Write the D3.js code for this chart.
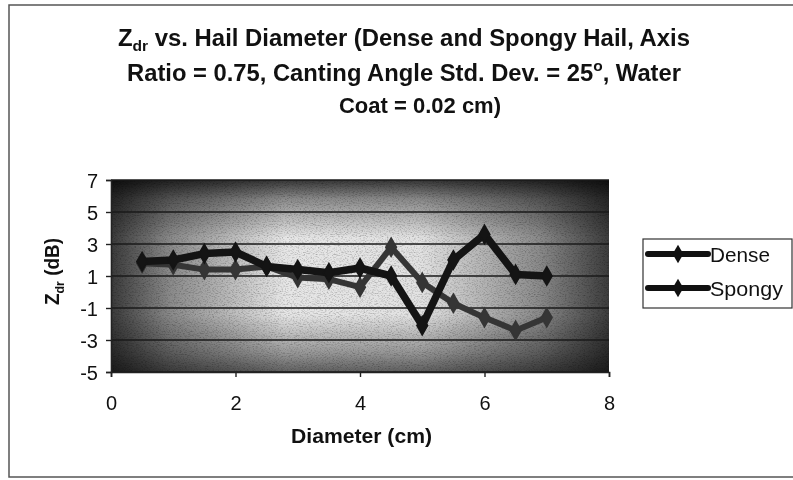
<!DOCTYPE html>
<html>
<head>
<meta charset="utf-8">
<script src="https://cdn.jsdelivr.net/npm/d3@7/dist/d3.min.js"></script>
<style>
  html, body { margin: 0; padding: 0; background: #fff; }
  svg { display: block; font-family: "Liberation Sans", Arial, Helvetica, sans-serif; }
</style>
</head>
<body>
<svg id="chart" width="793" height="480"></svg>
<script>
// Hail diameter (cm) and differential reflectivity Zdr (dB)
const diameters = [0.5, 1, 1.5, 2, 2.5, 3, 3.5, 4, 4.5, 5, 5.5, 6, 6.5, 7];
const denseZdr  = [1.9, 2.0, 2.4, 2.5, 1.6, 1.4, 1.2, 1.5, 1.0, -2.1, 2.0, 3.6, 1.1, 1.0];
const spongyZdr = [1.8, 1.7, 1.4, 1.4, 1.6, 0.9, 0.8, 0.3, 2.8, 0.6, -0.7, -1.6, -2.4, -1.6];
const seriesNames = ["Dense", "Spongy"];
const xTicks = [0, 2, 4, 6, 8];
const yTicks = [7, 5, 3, 1, -1, -3, -5];

const svg = d3.select("#chart");
const W = 793, H = 480;
const plot = { left: 111, right: 609, top: 180, bottom: 372 };

const x = d3.scaleLinear().domain([0, 8]).range([plot.left, plot.right]);
const y = d3.scaleLinear().domain([-5, 7]).range([plot.bottom, plot.top]);

const defs = svg.append("defs");

// horizontal shading: dark sides, light middle
const gh = defs.append("linearGradient").attr("id", "gh").attr("x1", 0).attr("x2", 1).attr("y1", 0).attr("y2", 0);
[[0, "#3a3a3a"], [0.12, "#8a8a8a"], [0.35, "#e6e6e6"], [0.62, "#e2e2e2"], [0.86, "#8a8a8a"], [1, "#3c3c3c"]]
  .forEach(([o, c]) => gh.append("stop").attr("offset", o).attr("stop-color", c));
// vertical shading: darker at top and bottom
const gv = defs.append("linearGradient").attr("id", "gv").attr("x1", 0).attr("x2", 0).attr("y1", 0).attr("y2", 1);
[[0, "#3c3c3c"], [0.1, "#9a9a9a"], [0.3, "#ffffff"], [0.7, "#ffffff"], [0.9, "#a8a8a8"], [1, "#6a6a6a"]]
  .forEach(([o, c]) => gv.append("stop").attr("offset", o).attr("stop-color", c));

// fine grain over the plot area
const grain = defs.append("filter").attr("id", "grain").attr("x", 0).attr("y", 0).attr("width", 1).attr("height", 1);
grain.append("feTurbulence").attr("type", "fractalNoise").attr("baseFrequency", "0.55 0.9").attr("numOctaves", 2).attr("seed", 7).attr("result", "n");
grain.append("feColorMatrix").attr("in", "n").attr("type", "matrix")
  .attr("values", "0 0 0 0 0  0 0 0 0 0  0 0 0 0 0  -1.4 0 0 0 0.75");

// chart frame
svg.append("rect").attr("x", 9).attr("y", 5).attr("width", W + 10).attr("height", 472)
  .attr("fill", "#fff").attr("stroke", "#555").attr("stroke-width", 1.5);

// plot background
const pw = plot.right - plot.left, ph = plot.bottom - plot.top;
svg.append("rect").attr("x", plot.left).attr("y", plot.top).attr("width", pw).attr("height", ph).attr("fill", "url(#gh)");
svg.append("rect").attr("x", plot.left).attr("y", plot.top).attr("width", pw).attr("height", ph)
  .attr("fill", "url(#gv)").style("mix-blend-mode", "multiply");
svg.append("rect").attr("x", plot.left).attr("y", plot.top).attr("width", pw).attr("height", ph)
  .attr("fill", "#000").attr("filter", "url(#grain)").attr("opacity", 0.45);

// horizontal gridlines
svg.append("g").selectAll("line").data(yTicks).join("line")
  .attr("x1", plot.left).attr("x2", plot.right)
  .attr("y1", d => y(d)).attr("y2", d => y(d))
  .attr("stroke", "#1a1a1a").attr("stroke-width", 1.6);

// axes
const xAxis = svg.append("g").attr("transform", `translate(0,${plot.bottom})`)
  .call(d3.axisBottom(x).tickValues(xTicks).tickSize(5).tickFormat(d3.format("d")));
const yAxis = svg.append("g").attr("transform", `translate(${plot.left},0)`)
  .call(d3.axisLeft(y).tickValues(yTicks).tickSize(5).tickPadding(8).tickFormat(d3.format("d")));
[xAxis, yAxis].forEach(g => {
  g.select(".domain").attr("stroke", "#222").attr("stroke-width", 1.6);
  g.selectAll(".tick line").attr("stroke", "#222").attr("stroke-width", 1.4);
  g.selectAll(".tick text").attr("fill", "#111").style("font-size", "20px").style("font-family", "Liberation Sans, Arial, sans-serif");
});
xAxis.selectAll(".tick text").attr("y", 38).attr("dy", "0");
yAxis.selectAll(".tick text").attr("dy", "0.36em");
yAxis.selectAll(".tick text").text(d => d < 0 ? "-" + Math.abs(d) : d);

// series
const series = [
  { name: seriesNames[0], values: denseZdr,  color: "#141414", width: 7.5 },
  { name: seriesNames[1], values: spongyZdr, color: "#353535", width: 6 }
];
const line = d3.line().x(d => x(d[0])).y(d => y(d[1]));
const diamond = d3.symbol().type(d3.symbolDiamond).size(100);

series.slice().reverse().forEach(s => {
  const pts = diameters.map((d, i) => [d, s.values[i]]);
  svg.append("path").datum(pts).attr("d", line)
    .attr("fill", "none").attr("stroke", s.color).attr("stroke-width", s.width)
    .attr("stroke-linejoin", "round").attr("stroke-linecap", "round");
  svg.append("g").selectAll("path").data(pts).join("path")
    .attr("d", diamond)
    .attr("transform", d => `translate(${x(d[0])},${y(d[1])})`)
    .attr("fill", s.color).attr("stroke", s.color).attr("stroke-width", 1.5);
});

// text fitted to a given width
function fitted(x0, yy, len, size, bold) {
  return svg.append("text").attr("x", x0).attr("y", yy)
    .attr("textLength", len).attr("lengthAdjust", "spacingAndGlyphs")
    .attr("font-weight", bold ? "bold" : "normal").style("font-size", size + "px").attr("fill", "#111");
}

// title
const t1 = fitted(118, 46, 572, 23, true);
t1.append("tspan").text("Z");
t1.append("tspan").text("dr").style("font-size", "15px").attr("dy", 5);
t1.append("tspan").text(" vs. Hail Diameter (Dense and Spongy Hail, Axis").attr("dy", -5);
const t2 = fitted(127, 81, 554, 23, true);
t2.append("tspan").text("Ratio = 0.75, Canting Angle Std. Dev. = 25");
t2.append("tspan").text("o").style("font-size", "15px").attr("dy", -10);
t2.append("tspan").text(", Water").attr("dy", 10);
svg.append("text").attr("x", 420).attr("y", 113).attr("text-anchor", "middle")
  .attr("font-weight", "bold").style("font-size", "22px").attr("fill", "#111").text("Coat = 0.02 cm)");

// axis titles
fitted(291, 443, 141, 21, true).text("Diameter (cm)");
const yt = svg.append("text").attr("transform", "translate(59,305) rotate(-90)")
  .attr("textLength", 67).attr("lengthAdjust", "spacingAndGlyphs")
  .attr("font-weight", "bold").style("font-size", "20px").attr("fill", "#111");
yt.append("tspan").text("Z");
yt.append("tspan").text("dr").style("font-size", "13px").attr("dy", 5);
yt.append("tspan").text(" (dB)").attr("dy", -5);

// legend
const lg = svg.append("g").attr("transform", "translate(643,239)");
lg.append("rect").attr("width", 149).attr("height", 69).attr("fill", "#fff").attr("stroke", "#333").attr("stroke-width", 1.2);
const legendWidths = [60, 73];
series.forEach((s, i) => {
  const row = lg.append("g").attr("transform", `translate(0,${15 + i * 34})`);
  row.append("line").attr("x1", 5).attr("x2", 65).attr("y1", 0).attr("y2", 0)
    .attr("stroke", "#111").attr("stroke-width", 6).attr("stroke-linecap", "round");
  row.append("path").attr("d", diamond).attr("transform", "translate(35,0)").attr("fill", "#111");
  row.append("text").attr("x", 67).attr("y", 0).attr("dy", "0.36em")
    .attr("textLength", legendWidths[i]).attr("lengthAdjust", "spacingAndGlyphs")
    .style("font-size", "21px").attr("fill", "#111").text(s.name);
});
</script>
</body>
</html>
